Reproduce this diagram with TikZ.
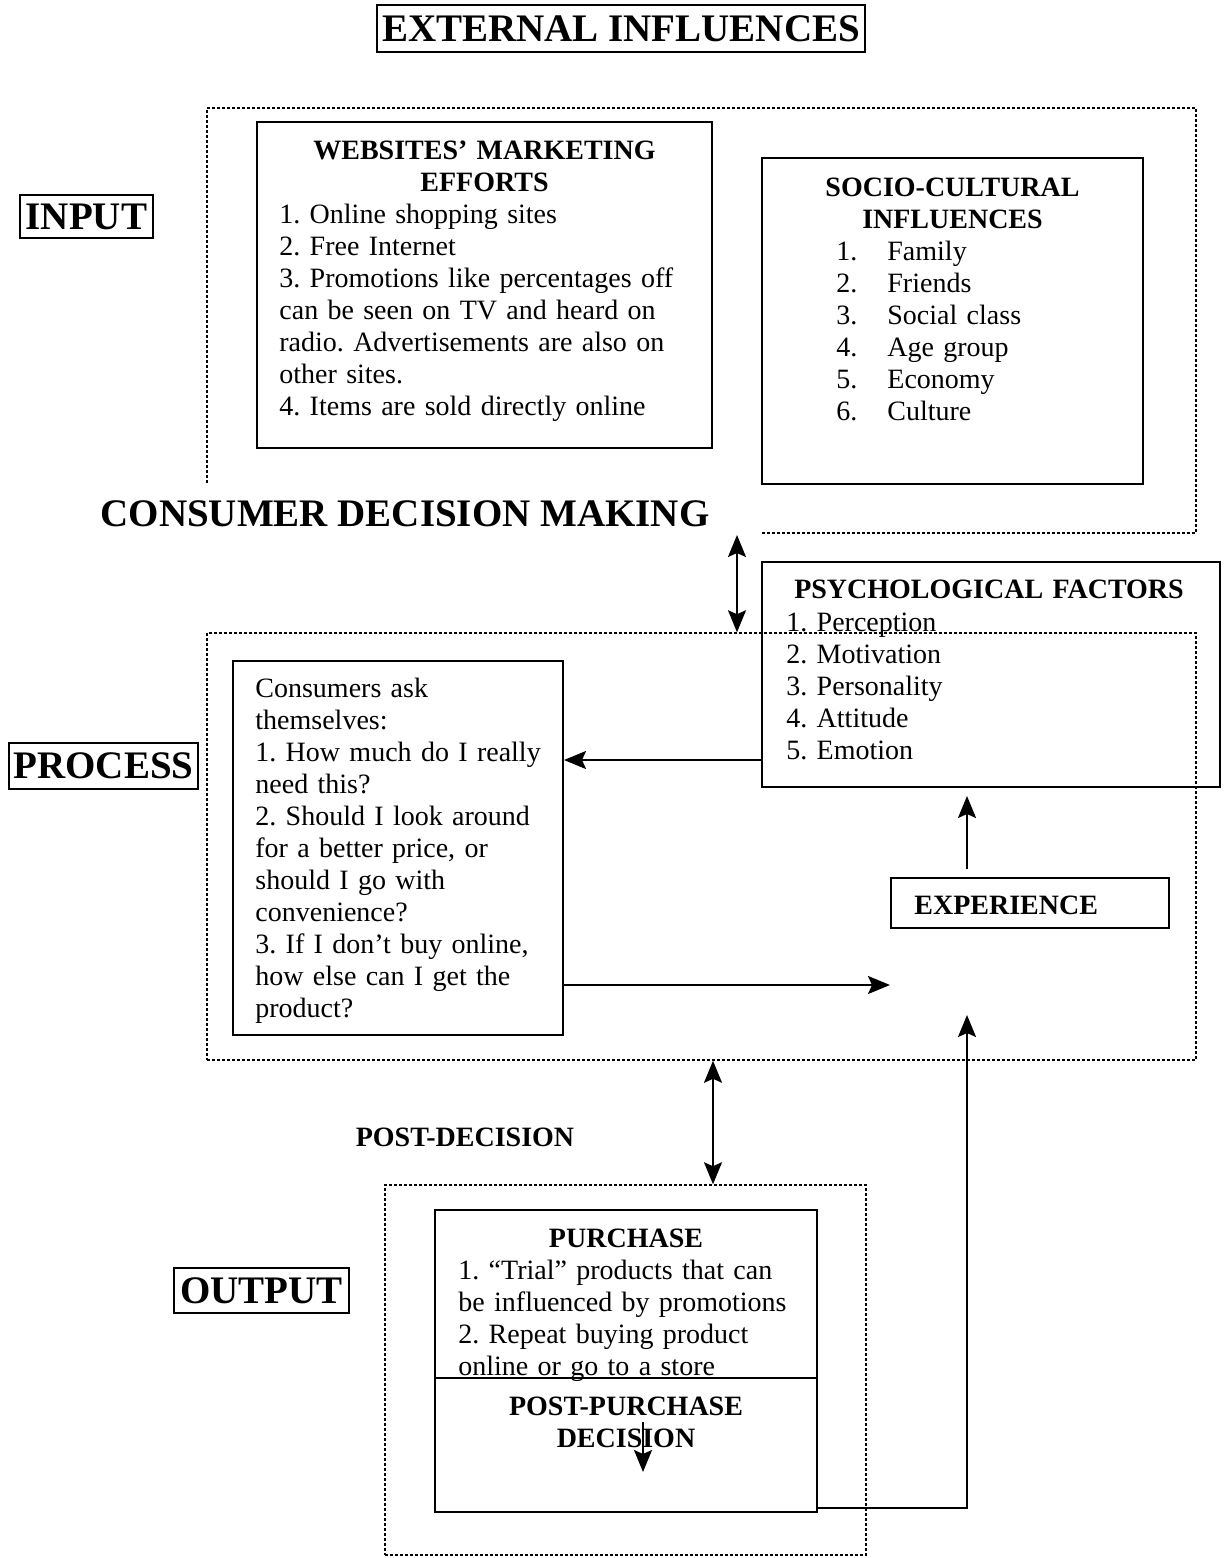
\documentclass[tikz,border=0pt]{standalone}
\usepackage{fontspec}
\setmainfont{Liberation Serif}
\usetikzlibrary{arrows.meta, positioning, fit}
\frenchspacing

\begin{document}
\begin{tikzpicture}[
  x=0.5pt, y=-0.5pt,
  box/.style={rectangle, draw, line width=1pt, inner sep=0pt},
  dotbox/.style={rectangle, draw, line width=0.75pt, dash pattern=on 1.5pt off 1pt, inner sep=0pt},
  dotline/.style={line width=0.75pt, dash pattern=on 1.5pt off 1pt},
  lbl/.style={rectangle, draw, line width=0.7pt, inner sep=0pt, font=\fontsize{19.5}{22}\selectfont\bfseries},
  big/.style={inner sep=0pt, font=\fontsize{19.5}{22}\selectfont\bfseries},
  head/.style={inner sep=0pt, anchor=base, align=center, font=\fontsize{14}{16}\selectfont\bfseries},
  body/.style={inner sep=0pt, anchor=base west, align=left, font=\fontsize{14}{16}\selectfont},
  arrow/.style={-{Stealth[length=11pt, width=9pt, inset=2pt]}, line width=1pt},
  twoway/.style={{Stealth[length=11pt, width=9pt, inset=2pt]}-{Stealth[length=11pt, width=9pt, inset=2pt]}, line width=1pt}
]
\useasboundingbox (0,0) rectangle (1228,1558);

% Side labels
\node[lbl, minimum width=244pt, minimum height=23.5pt] (ext) at (621,28.5) {EXTERNAL INFLUENCES};
\node[lbl, minimum width=66.5pt, minimum height=21.5pt] (input) at (86.5,216.5) {INPUT};
\node[lbl, minimum width=94.5pt, minimum height=23pt] (process) at (103.5,766) {PROCESS};
\node[lbl, minimum width=87.5pt, minimum height=22.5pt] (output) at (261.5,1290.5) {OUTPUT};
\node[big] (cdm) at (405,514) {CONSUMER DECISION MAKING};
\node[head, anchor=center] (postdec) at (465,1137) {POST-DECISION};

% Input boxes
\node[box, fit={(257,122) (712,448)}] (web) {};
\node[head, text width=220pt] (webh) at (484.5,159) {WEBSITES’ MARKETING\\EFFORTS};
\node[body, text width=210pt] (webt) at (279,223) {1. Online shopping sites\\2. Free Internet\\3. Promotions like percentages off\\can be seen on TV and heard on\\radio. Advertisements are also on\\other sites.\\4. Items are sold directly online};

\node[box, fit={(762,158) (1143,484)}] (socio) {};
\node[head, text width=185pt] (socioh) at (952.5,196) {SOCIO-CULTURAL\\INFLUENCES};
\node[body, text width=140pt] (sociot) at (836,260) {\makebox[25.5pt][l]{1.}Family\\\makebox[25.5pt][l]{2.}Friends\\\makebox[25.5pt][l]{3.}Social class\\\makebox[25.5pt][l]{4.}Age group\\\makebox[25.5pt][l]{5.}Economy\\\makebox[25.5pt][l]{6.}Culture};

% Process boxes
\node[box, fit={(762,562) (1220,787)}] (psych) {};
\node[head, text width=225pt] (psychh) at (989,598) {PSYCHOLOGICAL FACTORS};
\node[body, text width=200pt] (psycht) at (786,631) {1. Perception\\2. Motivation\\3. Personality\\4. Attitude\\5. Emotion};

\node[box, fit={(233,661) (563,1035)}] (ask) {};
\node[body, text width=150pt] (askt) at (255,697) {Consumers ask\\themselves:\\1. How much do I really\\need this?\\2. Should I look around\\for a better price, or\\should I go with\\convenience?\\3. If I don’t buy online,\\how else can I get the\\product?};

\node[box, fit={(891,878) (1169,928)}] (exper) {};
\node[head, anchor=base west] (expert) at (914,914) {EXPERIENCE};

% Output boxes
\node[box, fit={(435,1210) (817,1378)}] (purch) {};
\node[head, text width=185pt] (purchh) at (626,1247) {PURCHASE};
\node[body, text width=180pt] (purcht) at (458,1279) {1. “Trial” products that can\\be influenced by promotions\\2. Repeat buying product\\online or go to a store};
\node[box, fit={(435,1378) (817,1512)}] (postp) {};
\node[head, text width=185pt] (postph) at (626,1415) {POST-PURCHASE\\DECISION};

% Dotted frames
\draw[dotline] (207,483) |- (1196,108) |- (762,533);
\node[dotbox, fit={(207,633) (1196,1060)}] (procbox) {};
\node[dotbox, fit={(385,1185) (866,1555)}] (outbox) {};

% Helper coordinates
\coordinate (inlow) at (737,535);
\coordinate (decx) at (713,0);
\coordinate (col) at (967,0);
\coordinate (fbrow) at (0,760);
\coordinate (askrow) at (0,985);
\coordinate (looprow) at (0,1508);
\coordinate (expin) at (967,1015);
\coordinate (pdtop) at (643,1422);
\coordinate (pdend) at (643,1472);

% Arrows
\draw[twoway] (inlow) -- (inlow |- procbox.north);
\draw[twoway] (decx |- procbox.south) -- (decx |- outbox.north);
\draw[arrow] (psych.west |- fbrow) -- (ask.east |- fbrow);
\draw[arrow] (ask.east |- askrow) -- (exper.west |- askrow);
\draw[arrow, shorten <=4pt, shorten >=4pt] (col |- exper.north) -- (col |- psych.south);
\draw[arrow] (postp.east |- looprow) -| (expin);
\draw[arrow] (pdtop) -- (pdend);

\end{tikzpicture}
\end{document}
